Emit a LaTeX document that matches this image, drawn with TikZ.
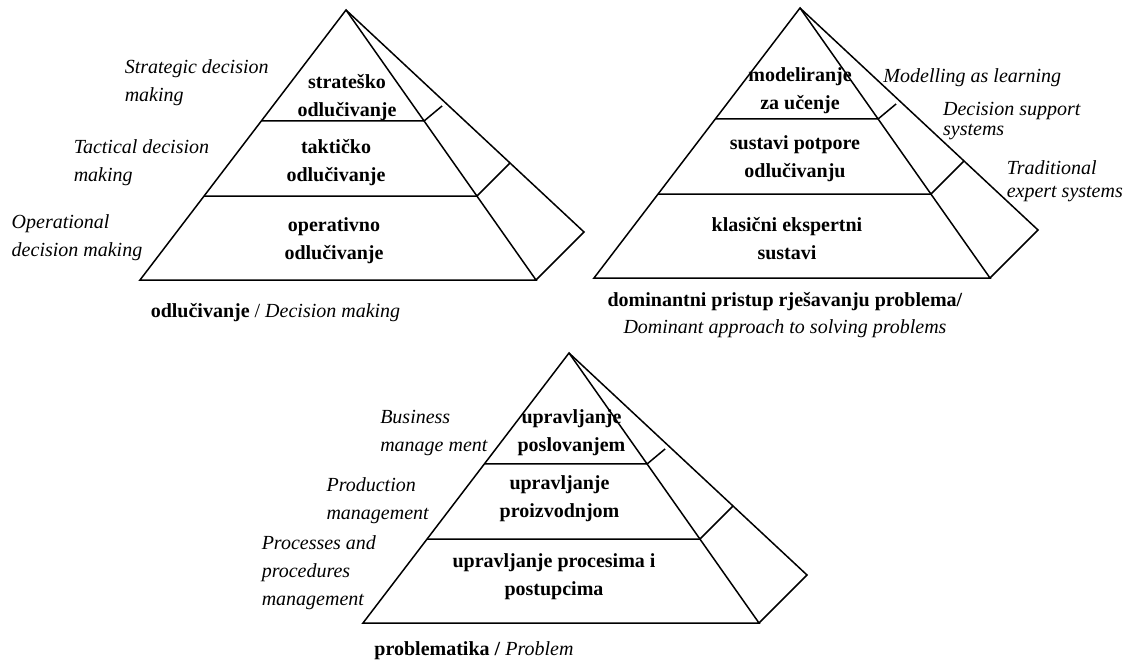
\documentclass[tikz,border=0pt]{standalone}
\usepackage{fontspec}
\setmainfont{Liberation Serif}
\usetikzlibrary{calc}

\tikzset{
  txt/.style={inner sep=0pt,font=\fontsize{20}{28}\selectfont},
  level/.style={txt,font=\fontsize{20}{28}\selectfont\bfseries,align=center},
  eng/.style={txt,font=\fontsize{20}{28}\selectfont\itshape,align=left,anchor=west},
  caption/.style={txt,align=center},
}

\begin{document}
\begin{tikzpicture}[x=1pt,y=-1pt,line width=1.5pt]
  \useasboundingbox (0,0) rectangle (1124,661);
  % three pyramids, same shape, given by the left corner of the base
  \foreach \p/\bx/\by in {a/140/280, b/594/278, c/363/623}{
    \coordinate (\p-l) at (\bx,\by);
    \coordinate (\p-r) at ($(\p-l)+(396,0)$);
    \coordinate (\p-t) at ($(\p-l)+(206,-270)$);
    \coordinate (\p-k) at ($(\p-l)+(444,-48)$);
    \draw (\p-l) -- (\p-t) -- (\p-r) -- cycle;
    \draw (\p-t) -- (\p-k) -- (\p-r);
    \coordinate (\p-m1) at ($(\p-t)!.411!(\p-r)$);
    \coordinate (\p-m2) at ($(\p-t)!.689!(\p-r)$);
    \draw ($(\p-t)!.411!(\p-l)$) -- (\p-m1) -- ++(18,-15);
    \draw ($(\p-t)!.689!(\p-l)$) -- (\p-m2) -- ($(\p-t)!.689!(\p-k)$);
  }

  % odlucivanje
  \node[level] (a1) at (347,97.5) {strateško\\odlučivanje};
  \node[level] (a2) at (336,162.5) {taktičko\\odlučivanje};
  \node[level] (a3) at (334,241) {operativno\\odlučivanje};
  \node[eng] (ae1) at (124,82.5) {Strategic decision\\making};
  \node[eng] (ae2) at (73,163) {Tactical decision\\making};
  \node[eng] (ae3) at (11,238) {Operational\\decision making};
  \node[caption] (acap) at (275.5,313) {\textbf{odlučivanje} / \textit{Decision making}};

  % dominantni pristup
  \node[level] (b1) at (800,91) {modeliranje\\za učenje};
  \node[level] (b2) at (795,159) {sustavi potpore\\odlučivanju};
  \node[level] (b3) at (787,239) {klasični ekspertni\\sustavi};
  \node[eng] (be1) at (882.7,77.3) {Modelling as learning};
  \node[eng] (be2) at (942.4,121.5) {Decision support\\[-8pt]systems};
  \node[eng] (be3) at (1006,181.5) {Traditional\\[-5pt]expert systems};
  \node[caption] (bcap) at (785,315)
    {\textbf{dominantni pristup rješavanju problema/}\\[-1.4pt]\textit{Dominant approach to solving problems}};

  % problematika
  \node[level] (c1) at (571.5,433) {upravljanje\\poslovanjem};
  \node[level] (c2) at (559.5,499) {upravljanje\\proizvodnjom};
  \node[level] (c3) at (554,577) {upravljanje procesima i\\postupcima};
  \node[eng] (ce1) at (379.5,433) {Business\\manage ment};
  \node[eng] (ce2) at (325.8,501) {Production\\management};
  \node[eng] (ce3) at (261,572.5) {Processes and\\procedures\\management};
  \node[caption] (ccap) at (474,651) {\textbf{problematika /} \textit{Problem}};
\end{tikzpicture}
\end{document}
